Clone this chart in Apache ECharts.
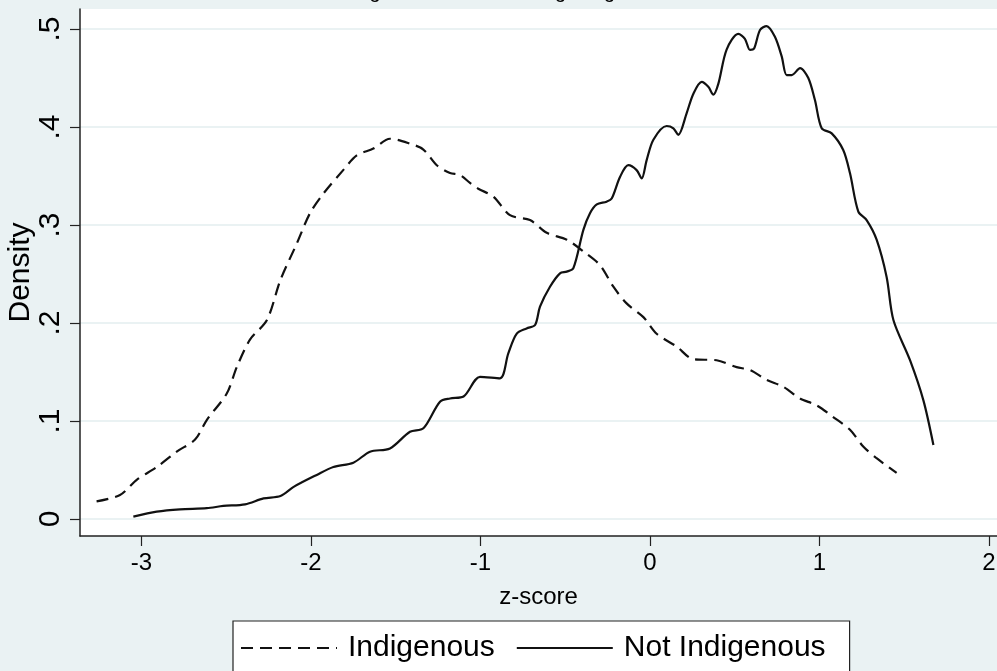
<!DOCTYPE html>
<html><head><meta charset="utf-8">
<script src="https://cdn.jsdelivr.net/npm/echarts@6/dist/echarts.min.js"></script>
<style>html,body{margin:0;padding:0;background:#EAF2F3}#c{width:997px;height:671px}</style>
</head><body><div id="c"></div>
<script>
const titleText = 'Reading achievement among Indigenous';
const xTicks = [-3, -2, -1, 0, 1, 2];
const yTicks = [0, 0.1, 0.2, 0.3, 0.4, 0.5];
const yTickLabels = ['0', '.1', '.2', '.3', '.4', '.5'];
const seriesNames = ['Indigenous', 'Not Indigenous'];

const indigZ = [-3.265,-3.127,-3.028,-2.91,-2.79,-2.684,-2.615,-2.497,-2.438,-2.36,-2.26,-2.18,-2.084,-2.006,-1.927,-1.81,-1.73,-1.632,-1.534,-1.416,-1.337,-1.258,-1.18,-1.121,-1.062,-1.013,-0.924,-0.826,-0.708,-0.609,-0.491,-0.393,-0.295,-0.216,-0.138,-0.039,0.039,0.157,0.256,0.393,0.511,0.59,0.688,0.786,0.885,0.983,1.081,1.18,1.258,1.337,1.455];
const indigD = [0.018,0.0245,0.040,0.053,0.069,0.081,0.101,0.128,0.155,0.183,0.203,0.244,0.281,0.312,0.332,0.356,0.371,0.378,0.388,0.383,0.377,0.361,0.353,0.351,0.343,0.337,0.329,0.310,0.305,0.292,0.285,0.273,0.259,0.237,0.220,0.206,0.189,0.176,0.163,0.162,0.155,0.152,0.142,0.135,0.123,0.116,0.104,0.091,0.074,0.062,0.047];

const notIndZ = [-3.048,-2.91,-2.773,-2.615,-2.517,-2.389,-2.28,-2.18,-2.10,-1.966,-1.868,-1.75,-1.652,-1.534,-1.416,-1.337,-1.239,-1.18,-1.10,-1.003,-0.885,-0.836,-0.787,-0.728,-0.678,-0.649,-0.59,-0.531,-0.491,-0.452,-0.393,-0.354,-0.314,-0.256,-0.226,-0.177,-0.128,-0.079,-0.049,-0.02,0.02,0.098,0.138,0.167,0.216,0.256,0.305,0.344,0.374,0.403,0.452,0.521,0.56,0.59,0.614,0.649,0.688,0.737,0.777,0.806,0.836,0.885,0.934,0.973,1.013,1.072,1.14,1.18,1.229,1.278,1.337,1.396,1.436,1.534,1.613,1.672];
const notIndD = [0.0024,0.0075,0.0099,0.011,0.0133,0.015,0.021,0.0235,0.033,0.045,0.053,0.0575,0.0687,0.072,0.089,0.0925,0.1197,0.123,0.125,0.145,0.1435,0.169,0.189,0.1945,0.198,0.2167,0.237,0.2507,0.2524,0.256,0.295,0.312,0.321,0.3238,0.327,0.349,0.361,0.356,0.3476,0.366,0.387,0.401,0.3987,0.392,0.414,0.434,0.446,0.441,0.433,0.444,0.479,0.495,0.490,0.4786,0.48,0.499,0.503,0.492,0.472,0.453,0.453,0.46,0.45,0.4275,0.3987,0.3935,0.3765,0.3527,0.3136,0.305,0.285,0.247,0.203,0.162,0.121,0.0755];

const pairs = (xs, ys) => xs.map((x, i) => [x, ys[i]]);
const FONT = "'Liberation Sans', Arial, Helvetica, sans-serif";

const chart = echarts.init(document.getElementById('c'), null, {renderer: 'canvas'});
chart.setOption({
  backgroundColor: '#EAF2F3',
  animation: false,
  textStyle: {fontFamily: FONT},
  title: {
    text: titleText, left: 306, top: -18, padding: 0,
    textStyle: {fontFamily: FONT, fontSize: 20, fontWeight: 'normal', color: '#000'}
  },
  grid: {left: 80, right: 0, top: 9, bottom: 135, show: true, backgroundColor: '#ffffff', borderWidth: 0,
    containLabel: false, outerBoundsMode: 'none'},
  xAxis: {
    type: 'value', min: -3.3628, max: 2.0472,
    name: 'z-score', nameLocation: 'middle', nameGap: 49, nameMoveOverlap: false,
    nameTextStyle: {fontFamily: FONT, fontSize: 24, color: '#000'},
    axisLine: {show: true, onZero: false, lineStyle: {color: '#222', width: 1.5}},
    axisTick: {show: true, length: 10, customValues: xTicks, lineStyle: {color: '#222', width: 1.2}},
    axisLabel: {customValues: xTicks, margin: 15, fontSize: 24, color: '#000', fontFamily: FONT,
      formatter: v => String(v)},
    splitLine: {show: false}
  },
  yAxis: {
    type: 'value', min: -0.01735, max: 0.5204,
    name: 'Density', nameLocation: 'middle', nameGap: 44, nameMoveOverlap: false,
    nameTextStyle: {fontFamily: FONT, fontSize: 30, color: '#000'},
    axisLine: {show: true, onZero: false, lineStyle: {color: '#222', width: 1.5}},
    axisTick: {show: true, length: 10, customValues: yTicks, lineStyle: {color: '#222', width: 1.2}},
    axisLabel: {customValues: yTicks, rotate: 90, margin: 14, fontSize: 30, color: '#000', fontFamily: FONT,
      formatter: v => { const i = yTicks.findIndex(t => Math.abs(t - v) < 1e-6); return i >= 0 ? yTickLabels[i] : ''; }},
    splitLine: {show: true, lineStyle: {color: '#EAF2F3', width: 2}}
  },
  legend: {
    data: seriesNames, selectedMode: false,
    left: 233, top: 621, orient: 'horizontal',
    itemWidth: 96, itemHeight: 14, itemGap: 21,
    padding: [12, 24, 40, 7],
    borderColor: '#222', borderWidth: 1.2, backgroundColor: '#ffffff',
    itemStyle: {opacity: 0},
    textStyle: {fontFamily: FONT, fontSize: 30, color: '#000', padding: [0, 0, 0, 6]}
  },
  series: [
    {name: seriesNames[0], type: 'line', data: pairs(indigZ, indigD), showSymbol: false, symbol: 'none',
      smooth: 0.3, lineStyle: {color: '#111', width: 2.2, type: [12, 7]}, itemStyle: {color: '#111'}},
    {name: seriesNames[1], type: 'line', data: pairs(notIndZ, notIndD), showSymbol: false, symbol: 'none',
      smooth: 0.3, lineStyle: {color: '#111', width: 2.2, type: 'solid'}, itemStyle: {color: '#111'}}
  ]
});
</script></body></html>
